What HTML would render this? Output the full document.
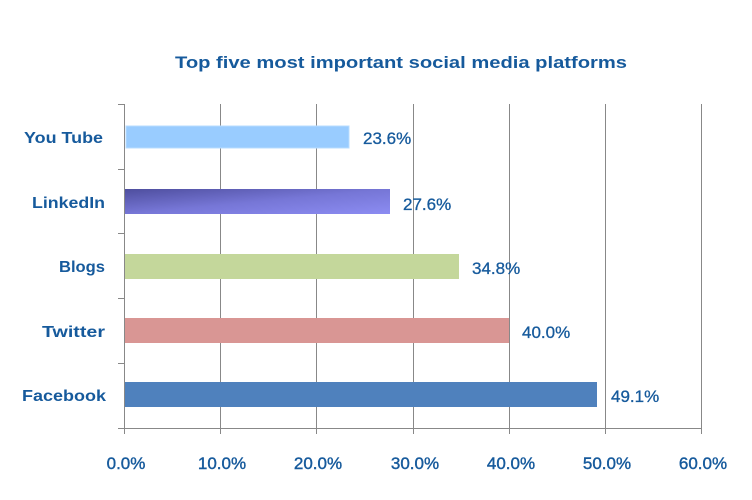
<!DOCTYPE html>
<html><head><style>
body{margin:0;background:#fff}
svg text{font-family:"Liberation Sans",sans-serif;fill:#165A9C}
</style></head><body>
<svg width="752" height="495" xmlns="http://www.w3.org/2000/svg">
<defs>
<linearGradient id="li" x1="0" y1="0" x2="1" y2="1">
<stop offset="0" stop-color="#4E4E9E"/><stop offset="0.5" stop-color="#7676D6"/><stop offset="1" stop-color="#8C8CF2"/>
</linearGradient>
</defs>
<text x="401" y="68" text-anchor="middle" font-size="17" font-weight="bold" textLength="452" lengthAdjust="spacingAndGlyphs">Top five most important social media platforms</text>
<g stroke="#888" stroke-width="1">
<line x1="220.5" y1="104" x2="220.5" y2="428"/>
<line x1="316.5" y1="104" x2="316.5" y2="428"/>
<line x1="413.5" y1="104" x2="413.5" y2="428"/>
<line x1="509.5" y1="104" x2="509.5" y2="428"/>
<line x1="605.5" y1="104" x2="605.5" y2="428"/>
<line x1="701.5" y1="104" x2="701.5" y2="428"/>
<line x1="124.5" y1="104" x2="124.5" y2="434"/>
<line x1="118" y1="428.5" x2="702" y2="428.5"/>
<line x1="118" y1="104.5" x2="124" y2="104.5"/>
<line x1="118" y1="169.5" x2="124" y2="169.5"/>
<line x1="118" y1="233.5" x2="124" y2="233.5"/>
<line x1="118" y1="298.5" x2="124" y2="298.5"/>
<line x1="118" y1="363.5" x2="124" y2="363.5"/>
<line x1="220.5" y1="428" x2="220.5" y2="434"/>
<line x1="316.5" y1="428" x2="316.5" y2="434"/>
<line x1="413.5" y1="428" x2="413.5" y2="434"/>
<line x1="509.5" y1="428" x2="509.5" y2="434"/>
<line x1="605.5" y1="428" x2="605.5" y2="434"/>
<line x1="701.5" y1="428" x2="701.5" y2="434"/>
</g>
<rect x="126" y="126" width="223" height="22" fill="#99CCFF" stroke="#B8DCFF"/>
<rect x="125" y="189" width="265" height="25" fill="url(#li)"/>
<rect x="125" y="254" width="334" height="25" fill="#C4D79B"/>
<rect x="125" y="318" width="384" height="25" fill="#D99694"/>
<rect x="125" y="382" width="472" height="25" fill="#4F81BD"/>
<g font-size="16" font-weight="bold" text-anchor="end">
<text x="103" y="143" textLength="79" lengthAdjust="spacingAndGlyphs">You Tube</text>
<text x="105" y="208" textLength="73" lengthAdjust="spacingAndGlyphs">LinkedIn</text>
<text x="105" y="272" textLength="46" lengthAdjust="spacingAndGlyphs">Blogs</text>
<text x="105" y="337" textLength="63" lengthAdjust="spacingAndGlyphs">Twitter</text>
<text x="106" y="401" textLength="84" lengthAdjust="spacingAndGlyphs">Facebook</text>
</g>
<g font-size="17" stroke="#165A9C" stroke-width="0.3">
<text x="363" y="144">23.6%</text>
<text x="403" y="210">27.6%</text>
<text x="472" y="274">34.8%</text>
<text x="522" y="338">40.0%</text>
<text x="611" y="402">49.1%</text>
</g>
<g font-size="17" text-anchor="middle" stroke="#165A9C" stroke-width="0.4">
<text x="126" y="469">0.0%</text>
<text x="222" y="469">10.0%</text>
<text x="318" y="469">20.0%</text>
<text x="415" y="469">30.0%</text>
<text x="511" y="469">40.0%</text>
<text x="607" y="469">50.0%</text>
<text x="703" y="469">60.0%</text>
</g>
</svg>
</body></html>
